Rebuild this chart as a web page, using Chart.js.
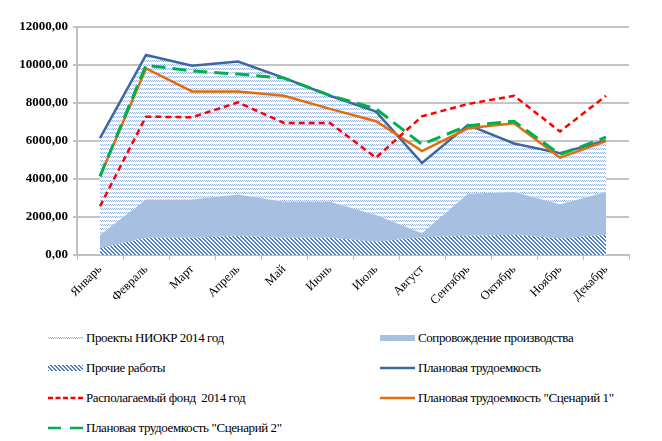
<!DOCTYPE html>
<html>
<head>
<meta charset="utf-8">
<script src="https://cdn.jsdelivr.net/npm/chart.js@4/dist/chart.umd.min.js"></script>
<style>
  body { margin: 0; background: #fff; }
  #wrap { position: relative; width: 662px; height: 441px; }
  #box { position: absolute; left: 0; top: 0; width: 662px; height: 310px; }
  .leg { position: absolute; font-family: "Liberation Serif", "Times New Roman", "DejaVu Serif", serif; font-size: 13px; color: #000; white-space: nowrap; line-height: 15px; letter-spacing: -0.4px; }
  .leg canvas { position: absolute; left: 0; top: 3px; }
  .leg span { position: absolute; left: 38px; top: 0; white-space: pre; }
</style>
</head>
<body>
<div id="wrap">
  <div id="box"><canvas id="chart"></canvas></div>
</div>
<script>
// Месяцы
const months = ['Январь', 'Февраль', 'Март', 'Апрель', 'Май', 'Июнь', 'Июль', 'Август', 'Сентябрь', 'Октябрь', 'Ноябрь', 'Декабрь'];

// Области (стек)
const prochie = [350, 910, 910, 1000, 910, 910, 700, 930, 1010, 1070, 870, 1070];
const soprovozhdenie = [700, 2010, 2010, 2180, 1890, 1890, 1400, 210, 2220, 2250, 1800, 2250];
const niokr = [5100, 7610, 7040, 7000, 6520, 5580, 5450, 3700, 3620, 2550, 2690, 2710];

// Линии
const planovaya = [6150, 10530, 9960, 10180, 9320, 8380, 7550, 4840, 6850, 5870, 5360, 6030];
const fond = [2570, 7280, 7250, 8030, 6950, 6950, 5120, 7300, 7950, 8380, 6500, 8380];
const scen1 = [4140, 9820, 8610, 8610, 8380, 7690, 7040, 5470, 6670, 6930, 5120, 5990];
const scen2 = [4140, 9990, 9690, 9520, 9310, 8400, 7690, 5820, 6810, 7040, 5290, 6200];

// Штриховки
function makePattern(draw, w, h) {
    const c = document.createElement('canvas');
    c.width = w; c.height = h;
    const g = c.getContext('2d');
    g.fillStyle = '#ffffff';
    g.fillRect(0, 0, w, h);
    draw(g);
    return c;
}
const patNiokr = makePattern(g => {
    g.fillStyle = '#9ab6de';
    g.fillRect(0, 0, 1, 1); g.fillRect(2, 0, 1, 1);
    g.fillRect(1, 1, 1, 1); g.fillRect(3, 1, 1, 1);
}, 4, 4);
const patProchie = makePattern(g => {
    g.fillStyle = '#4f7ec2';
    for (let i = 0; i < 4; i++) {
        g.fillRect(i, i, 1, 1);
        g.fillRect((i + 1) % 4, i, 1, 1);
    }
}, 4, 4);

const ctx = document.getElementById('chart').getContext('2d');
const fillNiokr = ctx.createPattern(patNiokr, 'repeat');
const fillProchie = ctx.createPattern(patProchie, 'repeat');
const colSopr = '#a7bfe0';

const serif = '"Liberation Serif", "Times New Roman", "DejaVu Serif", serif';

new Chart(ctx, {
    type: 'line',
    data: {
        labels: months,
        datasets: [
            // order задаёт порядок стека: меньший — ниже
            { label: 'Прочие работы', data: prochie, stack: 'a', fill: 'origin', backgroundColor: fillProchie, borderWidth: 0, pointRadius: 0, order: 7 },
            { label: 'Сопровождение производства', data: soprovozhdenie, stack: 'a', fill: '-1', backgroundColor: colSopr, borderWidth: 0, pointRadius: 0, order: 8 },
            { label: 'Проекты НИОКР 2014 год', data: niokr, stack: 'a', fill: '-1', backgroundColor: fillNiokr, borderWidth: 0, pointRadius: 0, order: 9 },
            { label: 'Плановая трудоемкость', data: planovaya, stack: 'b', borderColor: '#3d67a3', borderWidth: 2.5, pointRadius: 0, fill: false, order: 4 },
            { label: 'Плановая трудоемкость "Сценарий 1"', data: scen1, stack: 'c', borderColor: '#e46c0a', borderWidth: 2.5, pointRadius: 0, fill: false, order: 3 },
            { label: 'Плановая трудоемкость "Сценарий 2"', data: scen2, stack: 'd', borderColor: '#00b050', borderWidth: 3, borderDash: [14, 7], pointRadius: 0, fill: false, order: 2 },
            { label: 'Располагаемый фонд  2014 год', data: fond, stack: 'e', borderColor: '#ff0000', borderWidth: 2.5, borderDash: [6, 4], pointRadius: 0, fill: false, order: 1 },
        ],
    },
    options: {
        responsive: true,
        maintainAspectRatio: false,
        animation: false,
        layout: { padding: { left: 0, right: 33, top: 27, bottom: 0 } },
        plugins: { legend: { display: false }, tooltip: { enabled: false } },
        elements: { line: { tension: 0 } },
        scales: {
            x: {
                offset: true,
                grid: { drawOnChartArea: false, offset: true, tickLength: 5, color: '#bfbfbf' },
                border: { color: '#bfbfbf', width: 2 },
                ticks: { color: '#000', maxRotation: 45, minRotation: 45, padding: 2, font: { family: serif, size: 12.5 } },
                afterFit: (s) => { s.height = 55; },
            },
            y: {
                stacked: true,
                min: 0,
                max: 12000,
                ticks: {
                    stepSize: 2000,
                    color: '#000',
                    padding: 5,
                    font: { family: serif, size: 13, weight: 'bold' },
                    callback: (v) => v.toFixed(2).replace('.', ','),
                },
                grid: { color: '#c4c4c4', lineWidth: 2, tickLength: 4 },
                border: { color: '#bfbfbf', width: 2 },
                afterFit: (s) => { s.width = 77; },
            },
        },
    },
});

// Легенда
const legendItems = [
    { text: 'Проекты НИОКР 2014 год', x: 48, y: 330, kind: 'pat', fill: patNiokr },
    { text: 'Сопровождение производства', x: 380, y: 330, kind: 'solid', fill: colSopr },
    { text: 'Прочие работы', x: 48, y: 360, kind: 'pat', fill: patProchie },
    { text: 'Плановая трудоемкость', x: 380, y: 360, kind: 'line', color: '#3d67a3', dash: [] },
    { text: 'Располагаемый фонд  2014 год', x: 48, y: 390, kind: 'line', color: '#ff0000', dash: [5, 2.5] },
    { text: 'Плановая трудоемкость "Сценарий 1"', x: 380, y: 390, kind: 'line', color: '#e46c0a', dash: [] },
    { text: 'Плановая трудоемкость "Сценарий 2"', x: 48, y: 420, kind: 'line', color: '#00b050', dash: [13, 9] },
];
const wrap = document.getElementById('wrap');
legendItems.forEach(it => {
    const d = document.createElement('div');
    d.className = 'leg';
    d.style.left = it.x + 'px';
    d.style.top = it.y + 'px';
    const c = document.createElement('canvas');
    c.width = 35; c.height = 10;
    const g = c.getContext('2d');
    if (it.kind === 'pat') {
        g.fillStyle = g.createPattern(it.fill, 'repeat');
        g.fillRect(0, 2, 35, 6);
    } else if (it.kind === 'solid') {
        g.fillStyle = it.fill;
        g.fillRect(0, 2, 35, 6);
    } else {
        g.strokeStyle = it.color;
        g.lineWidth = 2.5;
        g.setLineDash(it.dash);
        g.beginPath(); g.moveTo(0, 5); g.lineTo(35, 5); g.stroke();
    }
    const s = document.createElement('span');
    s.textContent = it.text;
    d.appendChild(c);
    d.appendChild(s);
    wrap.appendChild(d);
});
</script>
</body>
</html>
